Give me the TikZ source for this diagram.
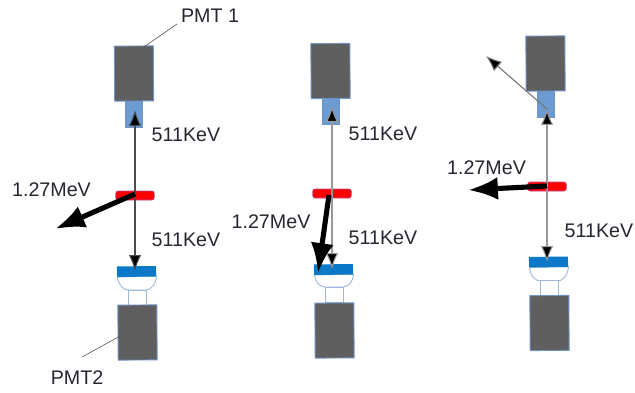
\documentclass[tikz,border=0pt]{standalone}
\usepackage{fontspec}
\setmainfont{Liberation Sans}
\usepackage{xcolor}
\usetikzlibrary{arrows.meta}
\definecolor{pmtgray}{HTML}{5F5F5F}
\definecolor{pmtedge}{HTML}{6F94C8}
\definecolor{guideblue}{HTML}{6C9BD2}
\definecolor{crystalblue}{HTML}{0C78C8}
\definecolor{bowledge}{HTML}{9DB6DC}
\definecolor{inktext}{HTML}{262630}
\tikzset{
  pmtbox/.style={draw=pmtedge, fill=pmtgray, line width=0.5pt, inner sep=0pt, rotate=0.4, minimum width=0.78cm, minimum height=1.1cm},
  guidebox/.style={draw=pmtedge, fill=guideblue, line width=0.3pt, inner sep=0pt, minimum width=0.34cm, minimum height=0.52cm},
  neckbox/.style={draw=bowledge, fill=white, line width=0.5pt, inner sep=0pt, minimum width=0.36cm, minimum height=0.3cm},
  crystalbox/.style={fill=crystalblue, inner sep=0pt, rotate=0.6, minimum width=0.78cm, minimum height=0.21cm},
  discbox/.style={draw=red!60!blue!70, fill=red, line width=0.3pt, rounded corners=1.2pt, inner sep=0pt, minimum width=0.77cm, minimum height=0.18cm},
  bowl/.style={draw=bowledge, fill=white, line width=0.5pt},
  gamma/.style={-{Latex[length=9pt,width=7pt,fill=black]}, line width=0.6pt},
  gammalow/.style={gamma, draw=black!40},
  gammahigh/.style={-{Latex[length=17pt,width=13pt]}, line width=2.9pt},
  leader/.style={draw=black!65, line width=0.35pt},
  lbl/.style={inner sep=0pt, text=inktext, font=\fontsize{11.2}{12}\selectfont}
}
\begin{document}
\begin{tikzpicture}[x=0.02cm, y=-0.02cm]
  \useasboundingbox (0,0) rectangle (635,392);

  % Left detector pair
  \node[pmtbox] (pmtA) at (134,73.5) {};
  \node[guidebox] (guideA) at (134,114) {};
  \node[discbox] (discA) at (135,195.5) {};
  \draw[bowl] (117.5,277) .. controls (118,285) and (124,290) .. (128,290) -- (146,290) .. controls (150,290) and (156,285) .. (156.5,276) -- cycle;
  \node[neckbox] (neckA) at (137,297.5) {};
  \node[crystalbox] (crystalA) at (136.5,271.5) {};
  \node[pmtbox] (pmtB) at (137.5,332.5) {};
  \coordinate (tipA) at (135,110);
  \coordinate (tipB) at (135,271);
  \coordinate (startA) at (135,194);
  \coordinate (endA) at (55,229);
  \draw[gamma, draw=black!70] (discA.center) -- (tipA);
  \draw[gamma, draw=black!70] (discA.center) -- (tipB);
  \draw[gammahigh] (startA) -- (endA);
  % Leader lines
  \coordinate (pmtAtag) at (131,56);
  \coordinate (pmtBtag) at (133,329);
  \node[lbl] (nameA) at (210,16) {PMT 1};
  \node[lbl] (nameB) at (77,378) {PMT2};
  \coordinate (nameAfoot) at (177,24);
  \coordinate (nameBfoot) at (82,357);
  \draw[leader] (pmtAtag) -- (nameAfoot);
  \draw[leader] (pmtBtag) -- (nameBfoot);
  \node[lbl] (upA) at (186,135) {511KeV};
  \node[lbl] (downA) at (186,240) {511KeV};
  \node[lbl] (highA) at (51.5,190) {1.27MeV};

  % Middle detector pair
  \node[pmtbox] (pmtC) at (330.5,71) {};
  \node[guidebox] (guideC) at (331,111) {};
  \node[discbox] (discC) at (332,193.5) {};
  \draw[bowl] (314.5,275) .. controls (315,283) and (321,287) .. (325,287) -- (343,287) .. controls (347,287) and (353,283) .. (353.5,274) -- cycle;
  \node[neckbox] (neckC) at (334,295) {};
  \node[crystalbox] (crystalC) at (333.5,269.5) {};
  \node[pmtbox] (pmtD) at (334.5,330.5) {};
  \coordinate (tipC) at (332,106);
  \coordinate (tipD) at (332,269);
  \coordinate (startC) at (329,195);
  \coordinate (endC) at (318,273);
  \draw[gammalow] (discC.center) -- (tipC);
  \draw[gammalow] (discC.center) -- (tipD);
  \draw[gammahigh] (startC) -- (endC);
  \node[lbl] (upC) at (383,134) {511KeV};
  \node[lbl] (downC) at (383,238) {511KeV};
  \node[lbl] (highC) at (271,222) {1.27MeV};

  % Right detector pair
  \node[pmtbox] (pmtE) at (545.5,63.5) {};
  \node[guidebox] (guideE) at (546,104) {};
  \node[discbox] (discE) at (547,186.5) {};
  \draw[bowl] (529.5,267.5) .. controls (530,276) and (536,281) .. (540,281) -- (558,281) .. controls (562,281) and (568,276) .. (568.5,266.5) -- cycle;
  \node[neckbox] (neckE) at (549,288) {};
  \node[crystalbox] (crystalE) at (548.5,262) {};
  \node[pmtbox] (pmtF) at (549.5,323) {};
  \coordinate (tipE) at (547,109);
  \coordinate (tipF) at (547,262);
  \coordinate (scatterE) at (486,56);
  \coordinate (startE) at (547,186);
  \coordinate (endE) at (468,190);
  \draw[gammalow] (discE.center) -- (tipE);
  \draw[gammalow] (discE.center) -- (tipF);
  \draw[gamma, draw=black!55] (tipE) -- (scatterE);
  \draw[gammahigh] (startE) -- (endE);
  \node[lbl] (highE) at (486.5,168) {1.27MeV};
  \node[lbl] (downE) at (599,231) {511KeV};
\end{tikzpicture}
\end{document}
